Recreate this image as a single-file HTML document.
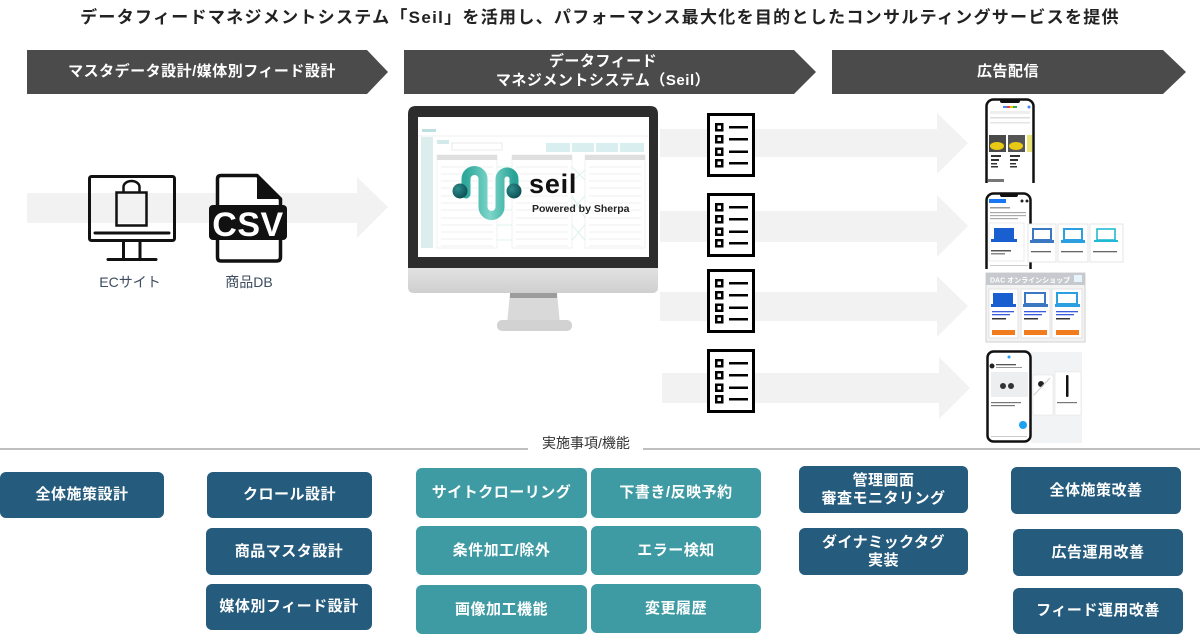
<!DOCTYPE html>
<html lang="ja">
<head>
<meta charset="utf-8">
<style>
  html,body{margin:0;padding:0;background:#fff;}
  body{width:1200px;height:635px;position:relative;overflow:hidden;
       font-family:"Liberation Sans","Noto Sans CJK JP",sans-serif;}
  .abs{position:absolute;}
  .title{left:0;width:1200px;top:7px;text-align:center;font-size:17px;font-weight:700;
         letter-spacing:1.3px;color:#222;line-height:22px;white-space:nowrap;}
  .chev{color:#fff;font-weight:700;font-size:15px;letter-spacing:0.5px;text-align:center;
        white-space:nowrap;line-height:19px;}
  .lbl{font-size:14px;color:#3d4b5e;text-align:center;white-space:nowrap;}
  .box{position:absolute;display:flex;align-items:center;justify-content:center;text-align:center;
       color:#fff;font-weight:700;font-size:15px;letter-spacing:0.5px;border-radius:6px;line-height:18px;
       white-space:nowrap;}
  .d{background:#255b7c;}
  .t{background:#3e9aa3;}
</style>
</head>
<body>

<svg class="abs" style="left:0;top:0" width="1200" height="635" viewBox="0 0 1200 635">
  <defs>
    <linearGradient id="wave" x1="0" y1="0" x2="1" y2="0">
      <stop offset="0" stop-color="#2fa89c"/>
      <stop offset="0.5" stop-color="#7dd6c9"/>
      <stop offset="1" stop-color="#2aa397"/>
    </linearGradient>
    <radialGradient id="ball" cx="0.35" cy="0.35" r="0.7">
      <stop offset="0" stop-color="#2f8c8c"/>
      <stop offset="1" stop-color="#0c4f55"/>
    </radialGradient>
    <linearGradient id="chin" x1="0" y1="0" x2="0" y2="1">
      <stop offset="0" stop-color="#e2e2e2"/>
      <stop offset="1" stop-color="#cfcfcf"/>
    </linearGradient>
    <clipPath id="p1clip"><rect x="980" y="95" width="60" height="88"/></clipPath>
    <clipPath id="p2clip"><rect x="980" y="188" width="60" height="81"/></clipPath>
  </defs>

  <!-- header chevrons -->
  <polygon points="27,50 367,50 388,72 367,94 27,94" fill="#4b4b4b"/>
  <polygon points="404,50 794,50 816,72 794,94 404,94" fill="#4b4b4b"/>
  <polygon points="832,50 1163,50 1186,72 1163,94 832,94" fill="#4b4b4b"/>

  <!-- left light arrow -->
  <polygon points="27,193 357,193 357,177 388,207 357,238 357,223 27,223" fill="#f2f2f2"/>

  <!-- middle light arrows -->
  <polygon points="660,129 937,129 937,113 968,143 937,174 937,157 660,157" fill="#f2f2f2"/>
  <polygon points="660,211 937,211 937,195 968,226 937,257 937,242 660,242" fill="#f2f2f2"/>
  <polygon points="660,292 937,292 937,276 968,306 937,337 937,321 660,321" fill="#f2f2f2"/>
  <polygon points="662,373 939,373 939,357 970,388 939,419 939,403 662,403" fill="#f2f2f2"/>

  <!-- EC site icon -->
  <g fill="none" stroke="#111" stroke-width="3" stroke-linecap="round">
    <rect x="89.5" y="176.5" width="85" height="64" rx="2"/>
    <line x1="95" y1="233" x2="169" y2="233"/>
    <line x1="123.5" y1="242" x2="123.5" y2="258"/>
    <line x1="140" y1="242" x2="140" y2="258"/>
    <line x1="108" y1="259.5" x2="156" y2="259.5"/>
    <rect x="116.5" y="192.5" width="30" height="33" stroke-width="2.5"/>
    <path d="M123.5,192 L123.5,187 A8,6 0 0 1 139.5,187 L139.5,192" stroke-width="2.5"/>
  </g>

  <!-- CSV icon -->
  <path d="M221,175.5 L257,175.5 L280.5,199 L280.5,257 Q280.5,261 276.5,261 L221,261 Q217.5,261 217.5,257 L217.5,179 Q217.5,175.5 221,175.5 Z" fill="#fff" stroke="#111" stroke-width="3.5" stroke-linejoin="round"/>
  <polygon points="257,176 281,199 257,199" fill="#111"/>
  <rect x="209" y="205" width="78" height="35" rx="4" fill="#111"/>
  <text x="248" y="236" text-anchor="middle" font-family="Liberation Sans, sans-serif" font-weight="700" font-size="34" fill="#fff" letter-spacing="0.5">CSV</text>

  <!-- Seil monitor -->
  <path d="M416,106 L650,106 Q658,106 658,114 L658,268 L408,268 L408,114 Q408,106 416,106 Z" fill="#2d2d2d"/>
  <path d="M408,268 L658,268 L658,287 Q658,293 652,293 L414,293 Q408,293 408,287 Z" fill="url(#chin)"/>
  <polygon points="510,293 557,293 560,324 507,324" fill="#d9d9d9"/>
  <rect x="510" y="293" width="47" height="5" fill="#9c9c9c"/>
  <rect x="497" y="320" width="75" height="11" rx="5" fill="#d2d2d2"/>
  <rect x="418" y="117" width="231" height="140" fill="#fff"/>
  <!-- faint UI -->
  <g opacity="0.9">
    <rect x="422" y="129" width="14" height="3" fill="#b7dcdc"/>
    <line x1="418" y1="136" x2="649" y2="136" stroke="#eeeeee" stroke-width="1"/>
    <rect x="421" y="137" width="12" height="111" fill="#d8ecec"/>
    <rect x="437" y="140" width="12" height="4" fill="#cfe8e8"/>
    <rect x="452" y="143" width="50" height="7" fill="none" stroke="#e3e3e3" stroke-width="0.8"/>
    <rect x="546" y="143" width="24" height="9" fill="#d5eeee"/>
    <rect x="572" y="143" width="22" height="9" fill="#d5eeee"/>
    <rect x="596" y="143" width="22" height="9" fill="#d5eeee"/>
    <rect x="620" y="143" width="24" height="9" fill="#d5eeee"/>
    <rect x="437" y="155" width="60" height="93" fill="none" stroke="#ececec" stroke-width="0.8"/>
    <rect x="512" y="155" width="60" height="93" fill="none" stroke="#ececec" stroke-width="0.8"/>
    <rect x="585" y="155" width="60" height="93" fill="none" stroke="#ececec" stroke-width="0.8"/>
    <rect x="437" y="155" width="60" height="5" fill="#dcdcdc"/>
    <rect x="512" y="155" width="60" height="5" fill="#dcdcdc"/>
    <rect x="585" y="155" width="60" height="5" fill="#dcdcdc"/>
    <g stroke="#eeeeee" stroke-width="1">
      <line x1="441" y1="167" x2="493" y2="167"/><line x1="441" y1="174" x2="493" y2="174"/>
      <line x1="441" y1="181" x2="493" y2="181"/><line x1="441" y1="188" x2="493" y2="188"/>
      <line x1="441" y1="196" x2="493" y2="196"/><line x1="441" y1="203" x2="493" y2="203"/>
      <line x1="441" y1="210" x2="493" y2="210"/><line x1="441" y1="218" x2="493" y2="218"/>
      <line x1="441" y1="225" x2="493" y2="225"/><line x1="441" y1="232" x2="493" y2="232"/>
      <line x1="441" y1="239" x2="493" y2="239"/><line x1="441" y1="246" x2="493" y2="246"/>
      <line x1="516" y1="167" x2="568" y2="167"/><line x1="516" y1="174" x2="568" y2="174"/>
      <line x1="516" y1="181" x2="568" y2="181"/><line x1="516" y1="188" x2="568" y2="188"/>
      <line x1="516" y1="196" x2="568" y2="196"/><line x1="516" y1="203" x2="568" y2="203"/>
      <line x1="516" y1="210" x2="568" y2="210"/><line x1="516" y1="218" x2="568" y2="218"/>
      <line x1="516" y1="225" x2="568" y2="225"/><line x1="516" y1="232" x2="568" y2="232"/>
      <line x1="516" y1="239" x2="568" y2="239"/><line x1="516" y1="246" x2="568" y2="246"/>
      <line x1="589" y1="167" x2="641" y2="167"/><line x1="589" y1="174" x2="641" y2="174"/>
      <line x1="589" y1="181" x2="641" y2="181"/><line x1="589" y1="188" x2="641" y2="188"/>
      <line x1="589" y1="196" x2="641" y2="196"/><line x1="589" y1="203" x2="641" y2="203"/>
      <line x1="589" y1="210" x2="641" y2="210"/><line x1="589" y1="218" x2="641" y2="218"/>
      <line x1="589" y1="225" x2="641" y2="225"/><line x1="589" y1="232" x2="641" y2="232"/>
      <line x1="589" y1="239" x2="641" y2="239"/><line x1="589" y1="246" x2="641" y2="246"/>
    </g>
    <g stroke="#cdeee0" stroke-width="0.8" fill="none">
      <path d="M572,167 L585,180 M572,181 L585,170 M572,196 L585,218 M572,210 L585,196 M572,225 L585,240 M572,240 L585,225"/>
      <path d="M497,167 L512,167 M497,181 L512,181 M497,196 L512,196 M497,210 L512,210 M497,225 L512,225 M497,240 L512,240"/>
    </g>
  </g>
  <!-- seil logo -->
  <path d="M466,194 L466,179 A8.5,8.5 0 0 1 483,179 L483,207 A8.5,8.5 0 0 0 500,207 L500,179 A7,7 0 0 1 514,179 L514,192" fill="none" stroke="url(#wave)" stroke-width="9" stroke-linecap="round"/>
  <circle cx="460" cy="191" r="7.5" fill="url(#ball)"/>
  <circle cx="514" cy="191" r="7.5" fill="url(#ball)"/>
  <text x="529" y="193" font-family="Liberation Sans, sans-serif" font-weight="700" font-size="27" fill="#111" letter-spacing="0.8">seil</text>
  <text x="532" y="212" font-family="Liberation Sans, sans-serif" font-weight="700" font-size="10.5" fill="#222">Powered by Sherpa</text>

  <!-- document icons -->
  <g transform="translate(707,113)">
    <rect x="1.5" y="1.5" width="45" height="61" fill="#fff" stroke="#000" stroke-width="3"/>
    <g fill="none" stroke="#000" stroke-width="2.5">
      <rect x="9.25" y="11.25" width="6" height="6"/><rect x="9.25" y="23.25" width="6" height="6"/>
      <rect x="9.25" y="35.75" width="6" height="6"/><rect x="9.25" y="47.25" width="6" height="6"/>
      <line x1="22" y1="14.25" x2="41" y2="14.25"/><line x1="22" y1="26.25" x2="41" y2="26.25"/>
      <line x1="22" y1="38.75" x2="41" y2="38.75"/><line x1="22" y1="50.25" x2="41" y2="50.25"/>
    </g>
  </g>
  <g transform="translate(707,193)">
    <rect x="1.5" y="1.5" width="45" height="61" fill="#fff" stroke="#000" stroke-width="3"/>
    <g fill="none" stroke="#000" stroke-width="2.5">
      <rect x="9.25" y="11.25" width="6" height="6"/><rect x="9.25" y="23.25" width="6" height="6"/>
      <rect x="9.25" y="35.75" width="6" height="6"/><rect x="9.25" y="47.25" width="6" height="6"/>
      <line x1="22" y1="14.25" x2="41" y2="14.25"/><line x1="22" y1="26.25" x2="41" y2="26.25"/>
      <line x1="22" y1="38.75" x2="41" y2="38.75"/><line x1="22" y1="50.25" x2="41" y2="50.25"/>
    </g>
  </g>
  <g transform="translate(707,269)">
    <rect x="1.5" y="1.5" width="45" height="61" fill="#fff" stroke="#000" stroke-width="3"/>
    <g fill="none" stroke="#000" stroke-width="2.5">
      <rect x="9.25" y="11.25" width="6" height="6"/><rect x="9.25" y="23.25" width="6" height="6"/>
      <rect x="9.25" y="35.75" width="6" height="6"/><rect x="9.25" y="47.25" width="6" height="6"/>
      <line x1="22" y1="14.25" x2="41" y2="14.25"/><line x1="22" y1="26.25" x2="41" y2="26.25"/>
      <line x1="22" y1="38.75" x2="41" y2="38.75"/><line x1="22" y1="50.25" x2="41" y2="50.25"/>
    </g>
  </g>
  <g transform="translate(707,349)">
    <rect x="1.5" y="1.5" width="45" height="61" fill="#fff" stroke="#000" stroke-width="3"/>
    <g fill="none" stroke="#000" stroke-width="2.5">
      <rect x="9.25" y="11.25" width="6" height="6"/><rect x="9.25" y="23.25" width="6" height="6"/>
      <rect x="9.25" y="35.75" width="6" height="6"/><rect x="9.25" y="47.25" width="6" height="6"/>
      <line x1="22" y1="14.25" x2="41" y2="14.25"/><line x1="22" y1="26.25" x2="41" y2="26.25"/>
      <line x1="22" y1="38.75" x2="41" y2="38.75"/><line x1="22" y1="50.25" x2="41" y2="50.25"/>
    </g>
  </g>

  <!-- Phone 1: Google shopping -->
  <g clip-path="url(#p1clip)">
    <rect x="986.5" y="99.5" width="47" height="95" rx="7" fill="#fff" stroke="#111" stroke-width="2.5"/>
    <rect x="1000" y="99" width="20" height="4" rx="2" fill="#111"/>
    <rect x="1003" y="106" width="4" height="2" fill="#4285f4"/><rect x="1007" y="106" width="3" height="2" fill="#ea4335"/>
    <rect x="1010" y="106" width="3" height="2" fill="#fbbc05"/><rect x="1013" y="106" width="4" height="2" fill="#34a853"/>
    <circle cx="1029" cy="107" r="1.5" fill="#4285f4"/>
    <rect x="990" y="111" width="40" height="3" fill="#eee"/>
    <rect x="990" y="117" width="40" height="1.5" fill="#ddd"/>
    <rect x="990" y="122" width="40" height="1.5" fill="#e5e5e5"/>
    <rect x="989" y="135" width="17" height="17" fill="#4a4a4a"/>
    <ellipse cx="997" cy="146" rx="7" ry="4" fill="#e8c915"/>
    <rect x="1008" y="135" width="17" height="17" fill="#555"/>
    <ellipse cx="1016" cy="146" rx="7" ry="4" fill="#e8c915"/>
    <rect x="1027" y="135" width="5" height="17" fill="#e9e37a"/>
    <g fill="#333">
      <rect x="991" y="155" width="10" height="2"/><rect x="991" y="159" width="8" height="2"/>
      <rect x="991" y="163" width="6" height="1.5"/><rect x="991" y="166" width="7" height="1.5"/>
      <rect x="1010" y="155" width="10" height="2"/><rect x="1010" y="159" width="8" height="2"/>
      <rect x="1010" y="163" width="6" height="1.5"/><rect x="1010" y="166" width="7" height="1.5"/>
    </g>
    <rect x="988" y="179" width="16" height="3" fill="#777"/>
  </g>

  <!-- Phone 2: Facebook -->
  <g clip-path="url(#p2clip)">
    <rect x="986.5" y="193.5" width="44" height="85" rx="7" fill="#fff" stroke="#111" stroke-width="2.5"/>
    <rect x="1000" y="193" width="18" height="4" rx="2" fill="#111"/>
    <rect x="989" y="199" width="17" height="4" fill="#1877f2"/>
    <circle cx="1022" cy="201" r="1.5" fill="#222"/><circle cx="1027" cy="201" r="1.5" fill="#222"/>
    <rect x="990" y="207" width="20" height="1.5" fill="#999"/>
    <rect x="990" y="212" width="36" height="1.2" fill="#aaa"/>
    <rect x="990" y="215" width="36" height="1.2" fill="#aaa"/>
    <rect x="990" y="218" width="28" height="1.2" fill="#aaa"/>
    <rect x="989" y="223" width="35" height="38" fill="#fff" stroke="#e6e6e6" stroke-width="0.8"/>
    <rect x="994" y="228" width="20" height="11" fill="#1a5fd0"/>
    <rect x="991" y="239" width="26" height="3" fill="#1a5fd0"/>
    <rect x="991" y="250" width="20" height="1.5" fill="#555"/>
    <rect x="991" y="253" width="14" height="1.5" fill="#888"/>
    <rect x="990" y="265" width="38" height="1" fill="#ccc"/>
  </g>
  <g>
    <rect x="1028" y="224" width="28" height="38" fill="#fff" stroke="#e0e0e0" stroke-width="0.8"/>
    <rect x="1033" y="229" width="18" height="11" fill="none" stroke="#3a78c2" stroke-width="2"/>
    <rect x="1030" y="240" width="24" height="3" fill="#3a78c2"/>
    <rect x="1031" y="251" width="20" height="1.3" fill="#666"/>
    <rect x="1058" y="224" width="30" height="38" fill="#fff" stroke="#e0e0e0" stroke-width="0.8"/>
    <rect x="1064" y="229" width="18" height="11" fill="none" stroke="#2c9fe0" stroke-width="2"/>
    <rect x="1061" y="240" width="24" height="3" fill="#2c9fe0"/>
    <rect x="1061" y="251" width="22" height="1.3" fill="#666"/>
    <rect x="1090" y="224" width="33" height="38" fill="#fff" stroke="#e0e0e0" stroke-width="0.8"/>
    <rect x="1097" y="229" width="18" height="11" fill="none" stroke="#22b9d4" stroke-width="1.6"/>
    <rect x="1094" y="240" width="24" height="2" fill="#22b9d4"/>
    <rect x="1093" y="251" width="24" height="1.3" fill="#666"/>
  </g>

  <!-- DAC banner -->
  <rect x="986" y="273" width="99" height="69" fill="#f3f3f3" stroke="#d2d2d2" stroke-width="1"/>
  <rect x="986" y="273" width="99" height="12" fill="#c6cacf"/>
  <text x="990" y="282.5" font-family="Liberation Sans, Noto Sans CJK JP, sans-serif" font-weight="700" font-size="7" fill="#fff">DAC オンラインショップ</text>
  <rect x="1074" y="275" width="8" height="7" fill="#e8f4fb"/>
  <g>
    <rect x="989" y="289" width="29" height="49" fill="#fff" stroke="#dcdcdc" stroke-width="0.8"/>
    <rect x="993" y="293" width="20" height="11" fill="#1a5fd0"/><rect x="991" y="304" width="25" height="3" fill="#1a5fd0"/>
    <rect x="992" y="311" width="22" height="1.3" fill="#3b5bdb"/><rect x="992" y="314" width="18" height="1.3" fill="#3b5bdb"/>
    <rect x="992" y="318" width="14" height="1.5" fill="#333"/>
    <rect x="992" y="330" width="23" height="5" fill="#f07c1e"/>
    <rect x="1021" y="289" width="29" height="49" fill="#fff" stroke="#dcdcdc" stroke-width="0.8"/>
    <rect x="1025" y="293" width="20" height="11" fill="none" stroke="#3a78c2" stroke-width="2"/><rect x="1023" y="304" width="25" height="3" fill="#3a78c2"/>
    <rect x="1024" y="311" width="22" height="1.3" fill="#3b5bdb"/><rect x="1024" y="314" width="18" height="1.3" fill="#3b5bdb"/>
    <rect x="1024" y="318" width="14" height="1.5" fill="#333"/>
    <rect x="1024" y="330" width="23" height="5" fill="#f07c1e"/>
    <rect x="1052" y="289" width="30" height="49" fill="#fff" stroke="#dcdcdc" stroke-width="0.8"/>
    <rect x="1057" y="293" width="20" height="11" fill="none" stroke="#2c9fe0" stroke-width="2"/><rect x="1055" y="304" width="25" height="3" fill="#2c9fe0"/>
    <rect x="1056" y="311" width="22" height="1.3" fill="#3b5bdb"/><rect x="1056" y="314" width="18" height="1.3" fill="#3b5bdb"/>
    <rect x="1056" y="318" width="14" height="1.5" fill="#333"/>
    <rect x="1056" y="330" width="23" height="5" fill="#f07c1e"/>
  </g>

  <!-- Twitter -->
  <rect x="1031" y="352" width="51" height="91" fill="#f1f3f5"/>
  <rect x="1033" y="375" width="20" height="40" fill="#fff" stroke="#e4e4e4" stroke-width="0.6"/>
  <circle cx="1041" cy="384" r="3" fill="#222"/>
  <line x1="1034" y1="395" x2="1050" y2="378" stroke="#ccc" stroke-width="1"/>
  <rect x="1055" y="372" width="26" height="43" fill="#fff" stroke="#e4e4e4" stroke-width="0.6"/>
  <rect x="1066" y="375" width="2.5" height="22" rx="1" fill="#111"/>
  <rect x="1057" y="402" width="20" height="1.2" fill="#777"/>
  <rect x="987.5" y="351.5" width="43" height="90" rx="6" fill="#fff" stroke="#111" stroke-width="2.5"/>
  <circle cx="1009" cy="357" r="1.5" fill="#1da1f2"/>
  <circle cx="992" cy="366" r="2.5" fill="#222"/>
  <rect x="996" y="364" width="20" height="1.3" fill="#555"/>
  <rect x="996" y="367" width="26" height="1" fill="#999"/>
  <rect x="991" y="372" width="37" height="25" fill="#eceef0"/>
  <circle cx="1003" cy="386" r="3" fill="#333"/><circle cx="1011" cy="386" r="3" fill="#333"/>
  <rect x="991" y="402" width="30" height="1.2" fill="#777"/>
  <rect x="991" y="405" width="24" height="1.2" fill="#777"/>
  <circle cx="1023" cy="425" r="4" fill="#1da1f2"/>
  <rect x="991" y="436" width="36" height="1" fill="#ccc"/>

  <!-- bottom divider -->
  <line x1="0" y1="449" x2="528" y2="449" stroke="#aaaaaa" stroke-width="1.5"/>
  <line x1="643" y1="449" x2="1200" y2="449" stroke="#aaaaaa" stroke-width="1.5"/>
</svg>

<div class="abs title">データフィードマネジメントシステム「Seil」を活用し、パフォーマンス最大化を目的としたコンサルティングサービスを提供</div>

<div class="abs chev" style="left:27px;width:350px;top:62px;">マスタデータ設計/媒体別フィード設計</div>
<div class="abs chev" style="left:404px;width:398px;top:52px;">データフィード<br>マネジメントシステム（Seil）</div>
<div class="abs chev" style="left:832px;width:352px;top:62px;">広告配信</div>

<div class="abs lbl" style="left:80px;width:100px;top:272px;">ECサイト</div>
<div class="abs lbl" style="left:199px;width:100px;top:272px;">商品DB</div>

<div class="abs" style="left:530px;width:112px;top:433px;text-align:center;font-size:14px;color:#333;white-space:nowrap;">実施事項/機能</div>

<div class="box d" style="left:0;top:472px;width:164px;height:46px;">全体施策設計</div>
<div class="box d" style="left:207px;top:472px;width:165px;height:46px;">クロール設計</div>
<div class="box d" style="left:206px;top:528px;width:166px;height:47px;">商品マスタ設計</div>
<div class="box d" style="left:206px;top:584px;width:166px;height:46px;">媒体別フィード設計</div>

<div class="box t" style="left:416px;top:468px;width:171px;height:50px;">サイトクローリング</div>
<div class="box t" style="left:416px;top:526px;width:171px;height:49px;">条件加工/除外</div>
<div class="box t" style="left:416px;top:585px;width:171px;height:49px;">画像加工機能</div>
<div class="box t" style="left:591px;top:468px;width:170px;height:50px;">下書き/反映予約</div>
<div class="box t" style="left:591px;top:526px;width:170px;height:49px;">エラー検知</div>
<div class="box t" style="left:591px;top:584px;width:170px;height:49px;">変更履歴</div>

<div class="box d" style="left:799px;top:466px;width:169px;height:47px;">管理画面<br>審査モニタリング</div>
<div class="box d" style="left:799px;top:528px;width:169px;height:47px;">ダイナミックタグ<br>実装</div>

<div class="box d" style="left:1011px;top:467px;width:170px;height:47px;">全体施策改善</div>
<div class="box d" style="left:1013px;top:529px;width:170px;height:47px;">広告運用改善</div>
<div class="box d" style="left:1013px;top:588px;width:170px;height:46px;">フィード運用改善</div>

</body>
</html>
